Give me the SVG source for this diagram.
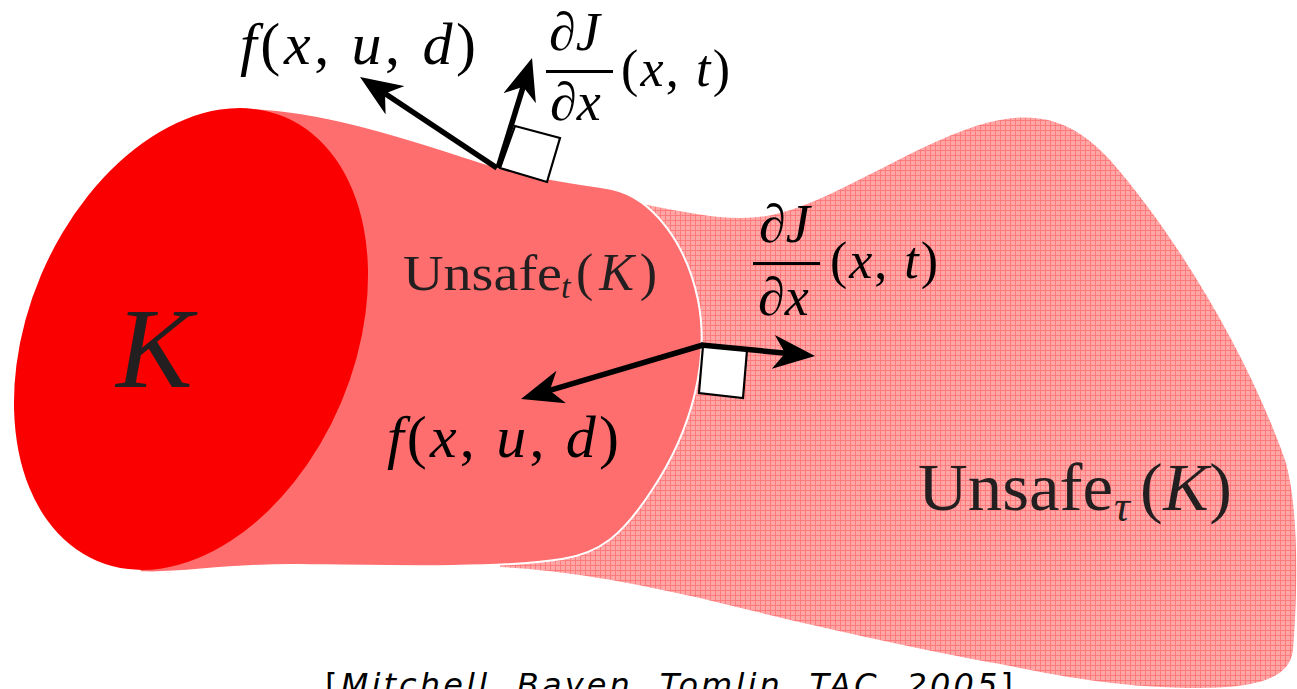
<svg xmlns="http://www.w3.org/2000/svg" width="1297" height="689" viewBox="0 0 1297 689">
<style>
.m{font-family:"Liberation Serif","Times New Roman",serif;fill:#000}
.u{font-family:"Liberation Serif","Times New Roman",serif;fill:#231f20}
.i{font-style:italic}
.arr{stroke:#000;stroke-width:5.5;fill:none;marker-end:url(#ah)}
.sq{fill:#fff;stroke:#000;stroke-width:2.2;stroke-linejoin:miter}
.cite{font-family:"DejaVu Sans",sans-serif;font-size:32px;fill:#000}
</style>
<defs>
<pattern id="grid" width="5" height="5" patternUnits="userSpaceOnUse">
<rect width="5" height="5" fill="#ffa6a6"/>
<path d="M0,0.5H5M0.5,0V5" stroke="#ff7a7a" stroke-width="1"/>
</pattern>
<marker id="ah" viewBox="0 0 42 34" refX="27" refY="17" markerWidth="42" markerHeight="34" markerUnits="userSpaceOnUse" orient="auto">
<path d="M0,0 L42,17 L0,34 L12,17 Z" fill="#000"/>
</marker>
</defs>
<rect width="1297" height="689" fill="#fff"/>

<g id="unsafe-tau">
<path d="M560,190 L647,205 C700,215 740,224 780,213 C840,198 920,140 990,122 C1040,110 1075,122 1110,160 C1180,240 1250,360 1285,460 C1300,510 1297,600 1293,650 C1290,675 1265,688 1200,688 C1120,688 1060,676 1000,664 C900,646 780,618 700,598 C620,580 560,570 500,567 Z" fill="url(#grid)"/>
<text class="u" x="918" y="510" font-size="68" textLength="195" lengthAdjust="spacingAndGlyphs">Unsafe</text>
<text class="u i" x="1114" y="521" font-size="44">τ</text>
<text class="u" x="1140" y="510" font-size="68" textLength="92">(<tspan class="i">K</tspan>)</text>
</g>

<g id="unsafe-t">
<path d="M240,108 C330,108 440,150 497,167 C540,180 580,183 612,189 C652,198 686,242 698,300 C710,360 692,430 652,490 C622,536 600,553 562,559 C500,569 380,566 300,565 C220,564 180,575 140,572 L100,340 Z" fill="#ff6e6e" stroke="#fff" stroke-width="2"/>
<text class="u" x="403" y="290" font-size="50" textLength="159" lengthAdjust="spacingAndGlyphs">Unsafe</text>
<text class="u i" x="561" y="298" font-size="34">t</text>
<text class="u" x="576" y="290" font-size="52" textLength="81">(<tspan class="i">K</tspan>)</text>
</g>

<g id="K">
<ellipse cx="191" cy="339" rx="163" ry="241" transform="rotate(22.9 191 339)" fill="#fb0000"/>
<text class="u i" x="116" y="387" font-size="115">K</text>
</g>

<g id="connectors">
<polygon class="sq" points="500,168 515,126 560,138 547,182"/>
<polygon class="sq" points="703,346 747,350 743,398 699,393"/>
<line class="arr" x1="497" y1="168" x2="372.5" y2="85.3"/>
<line class="arr" x1="498" y1="168" x2="527.6" y2="72.4"/>
<line class="arr" x1="703" y1="345" x2="535.4" y2="394.7"/>
<line class="arr" x1="701" y1="345" x2="800.1" y2="354.6"/>
</g>

<g id="label-f-top">
<text class="m" x="240" y="64" font-size="60" textLength="236"><tspan class="i">f</tspan>(<tspan class="i">x</tspan>, <tspan class="i">u</tspan>, <tspan class="i">d</tspan>)</text>
</g>
<g id="label-grad-top">
<text class="m" x="549" y="50" font-size="54">∂<tspan class="i">J</tspan></text>
<rect x="546" y="70" width="67" height="3" fill="#000"/>
<text class="m" x="550" y="120" font-size="54">∂<tspan class="i">x</tspan></text>
<text class="m" x="621" y="86" font-size="52" textLength="109">(<tspan class="i">x</tspan>, <tspan class="i">t</tspan>)</text>
</g>
<g id="label-grad-mid">
<text class="m" x="759" y="242" font-size="54">∂<tspan class="i">J</tspan></text>
<rect x="753" y="262" width="67" height="3" fill="#000"/>
<text class="m" x="758" y="315" font-size="54">∂<tspan class="i">x</tspan></text>
<text class="m" x="830" y="278" font-size="52" textLength="108">(<tspan class="i">x</tspan>, <tspan class="i">t</tspan>)</text>
</g>
<g id="label-f-mid">
<text class="m" x="387" y="457" font-size="60" textLength="232"><tspan class="i">f</tspan>(<tspan class="i">x</tspan>, <tspan class="i">u</tspan>, <tspan class="i">d</tspan>)</text>
</g>
<g id="citation">
<text class="cite" x="325" y="696" textLength="688">[<tspan font-style="italic">Mitchell, Bayen, Tomlin, TAC, 2005</tspan>]</text>
</g>
</svg>
